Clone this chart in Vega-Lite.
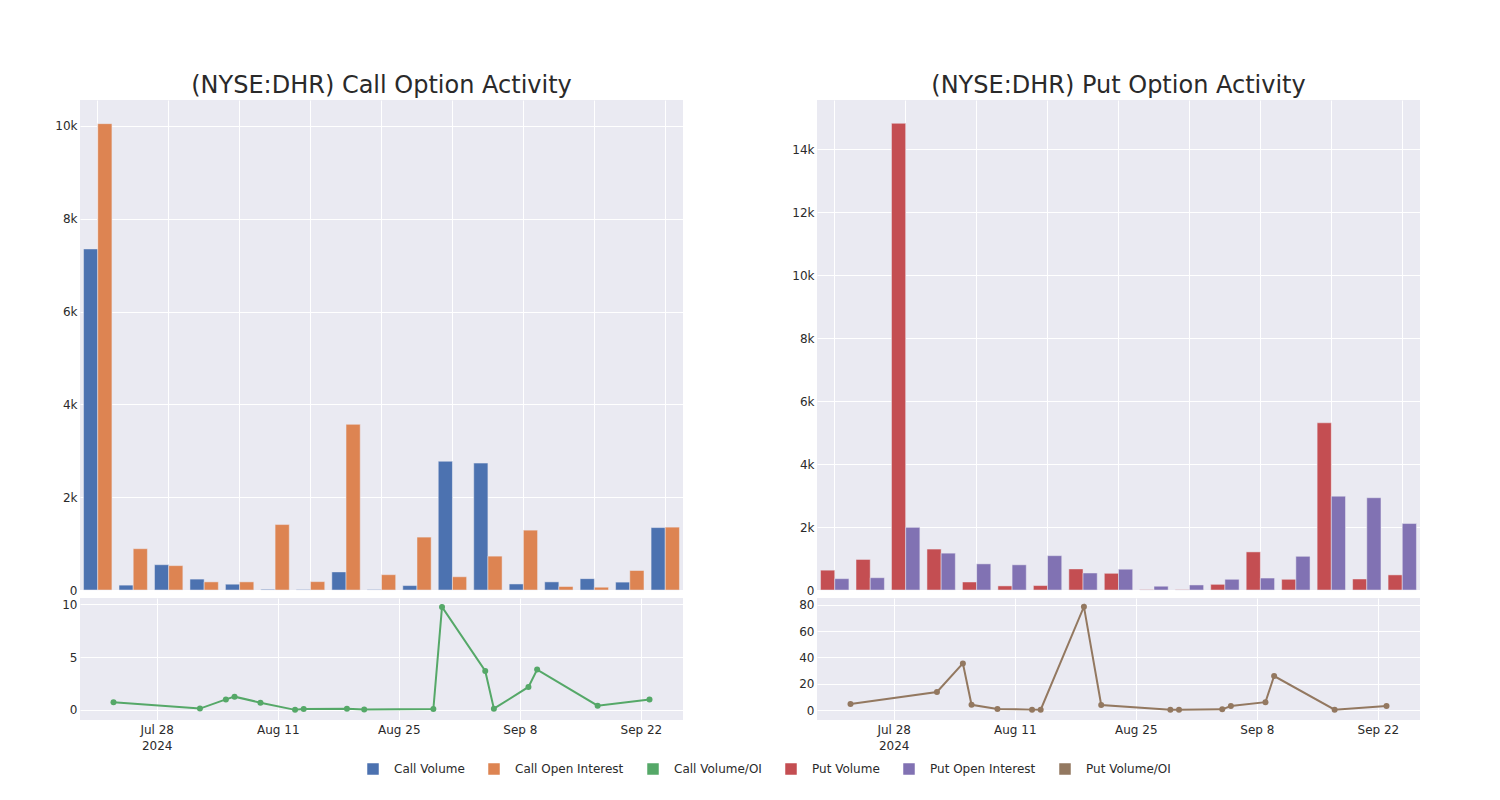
{
  "$schema": "https://vega.github.io/schema/vega-lite/v6.json",
  "background": "white",
  "padding": {"left": 54, "top": 74, "right": 10, "bottom": 10},
  "config": {
    "font": "DejaVu Sans",
    "view": {"fill": "#EAEAF2", "stroke": null},
    "axis": {"domain": false, "ticks": false, "gridColor": "white", "gridWidth": 1, "labelFont": "DejaVu Sans", "labelFontSize": 12, "labelColor": "#2a2a2a", "labelPadding": 3, "title": null},
    "title": {"font": "DejaVu Sans", "fontSize": 24, "fontWeight": "normal", "color": "#2a2a2a", "anchor": "middle", "frame": "group", "offset": 2}
  },
  "datasets": {
    "callBars": [
      {"g": 0, "series": "Call Volume", "value": 7350}, {"g": 0, "series": "Call Open Interest", "value": 10050},
      {"g": 1, "series": "Call Volume", "value": 105}, {"g": 1, "series": "Call Open Interest", "value": 890},
      {"g": 2, "series": "Call Volume", "value": 545}, {"g": 2, "series": "Call Open Interest", "value": 525},
      {"g": 3, "series": "Call Volume", "value": 235}, {"g": 3, "series": "Call Open Interest", "value": 175},
      {"g": 4, "series": "Call Volume", "value": 125}, {"g": 4, "series": "Call Open Interest", "value": 175},
      {"g": 5, "series": "Call Volume", "value": 15}, {"g": 5, "series": "Call Open Interest", "value": 1410},
      {"g": 6, "series": "Call Volume", "value": 10}, {"g": 6, "series": "Call Open Interest", "value": 180},
      {"g": 7, "series": "Call Volume", "value": 390}, {"g": 7, "series": "Call Open Interest", "value": 3570},
      {"g": 8, "series": "Call Volume", "value": 10}, {"g": 8, "series": "Call Open Interest", "value": 330},
      {"g": 9, "series": "Call Volume", "value": 95}, {"g": 9, "series": "Call Open Interest", "value": 1140},
      {"g": 10, "series": "Call Volume", "value": 2775}, {"g": 10, "series": "Call Open Interest", "value": 285},
      {"g": 11, "series": "Call Volume", "value": 2735}, {"g": 11, "series": "Call Open Interest", "value": 730},
      {"g": 12, "series": "Call Volume", "value": 130}, {"g": 12, "series": "Call Open Interest", "value": 1290},
      {"g": 13, "series": "Call Volume", "value": 175}, {"g": 13, "series": "Call Open Interest", "value": 75},
      {"g": 14, "series": "Call Volume", "value": 245}, {"g": 14, "series": "Call Open Interest", "value": 60},
      {"g": 15, "series": "Call Volume", "value": 170}, {"g": 15, "series": "Call Open Interest", "value": 420},
      {"g": 16, "series": "Call Volume", "value": 1345}, {"g": 16, "series": "Call Open Interest", "value": 1355}
    ],
    "putBars": [
      {"g": 0, "series": "Put Volume", "value": 630}, {"g": 0, "series": "Put Open Interest", "value": 360},
      {"g": 1, "series": "Put Volume", "value": 970}, {"g": 1, "series": "Put Open Interest", "value": 390},
      {"g": 2, "series": "Put Volume", "value": 14820}, {"g": 2, "series": "Put Open Interest", "value": 1990},
      {"g": 3, "series": "Put Volume", "value": 1300}, {"g": 3, "series": "Put Open Interest", "value": 1170},
      {"g": 4, "series": "Put Volume", "value": 255}, {"g": 4, "series": "Put Open Interest", "value": 830},
      {"g": 5, "series": "Put Volume", "value": 130}, {"g": 5, "series": "Put Open Interest", "value": 800},
      {"g": 6, "series": "Put Volume", "value": 140}, {"g": 6, "series": "Put Open Interest", "value": 1090},
      {"g": 7, "series": "Put Volume", "value": 670}, {"g": 7, "series": "Put Open Interest", "value": 540},
      {"g": 8, "series": "Put Volume", "value": 530}, {"g": 8, "series": "Put Open Interest", "value": 660},
      {"g": 9, "series": "Put Volume", "value": 10}, {"g": 9, "series": "Put Open Interest", "value": 120},
      {"g": 10, "series": "Put Volume", "value": 10}, {"g": 10, "series": "Put Open Interest", "value": 160},
      {"g": 11, "series": "Put Volume", "value": 180}, {"g": 11, "series": "Put Open Interest", "value": 340},
      {"g": 12, "series": "Put Volume", "value": 1210}, {"g": 12, "series": "Put Open Interest", "value": 380},
      {"g": 13, "series": "Put Volume", "value": 340}, {"g": 13, "series": "Put Open Interest", "value": 1070},
      {"g": 14, "series": "Put Volume", "value": 5310}, {"g": 14, "series": "Put Open Interest", "value": 2980},
      {"g": 15, "series": "Put Volume", "value": 350}, {"g": 15, "series": "Put Open Interest", "value": 2930},
      {"g": 16, "series": "Put Volume", "value": 480}, {"g": 16, "series": "Put Open Interest", "value": 2110}
    ],
    "callRatio": [
      {"date": "2024-07-23", "series": "Call Volume/OI", "value": 0.73},
      {"date": "2024-08-02", "series": "Call Volume/OI", "value": 0.13},
      {"date": "2024-08-05", "series": "Call Volume/OI", "value": 1.0},
      {"date": "2024-08-06", "series": "Call Volume/OI", "value": 1.26},
      {"date": "2024-08-09", "series": "Call Volume/OI", "value": 0.69},
      {"date": "2024-08-13", "series": "Call Volume/OI", "value": 0.01},
      {"date": "2024-08-14", "series": "Call Volume/OI", "value": 0.09},
      {"date": "2024-08-19", "series": "Call Volume/OI", "value": 0.12},
      {"date": "2024-08-21", "series": "Call Volume/OI", "value": 0.05},
      {"date": "2024-08-29", "series": "Call Volume/OI", "value": 0.09},
      {"date": "2024-08-30", "series": "Call Volume/OI", "value": 9.75},
      {"date": "2024-09-04", "series": "Call Volume/OI", "value": 3.69},
      {"date": "2024-09-05", "series": "Call Volume/OI", "value": 0.12},
      {"date": "2024-09-09", "series": "Call Volume/OI", "value": 2.18},
      {"date": "2024-09-10", "series": "Call Volume/OI", "value": 3.82},
      {"date": "2024-09-17", "series": "Call Volume/OI", "value": 0.41},
      {"date": "2024-09-23", "series": "Call Volume/OI", "value": 0.98}
    ],
    "putRatio": [
      {"date": "2024-07-23", "series": "Put Volume/OI", "value": 4.6},
      {"date": "2024-08-02", "series": "Put Volume/OI", "value": 13.7},
      {"date": "2024-08-05", "series": "Put Volume/OI", "value": 35.5},
      {"date": "2024-08-06", "series": "Put Volume/OI", "value": 4.0},
      {"date": "2024-08-09", "series": "Put Volume/OI", "value": 0.8},
      {"date": "2024-08-13", "series": "Put Volume/OI", "value": 0.3},
      {"date": "2024-08-14", "series": "Put Volume/OI", "value": 0.3},
      {"date": "2024-08-19", "series": "Put Volume/OI", "value": 78.7},
      {"date": "2024-08-21", "series": "Put Volume/OI", "value": 3.8},
      {"date": "2024-08-29", "series": "Put Volume/OI", "value": 0.3},
      {"date": "2024-08-30", "series": "Put Volume/OI", "value": 0.3},
      {"date": "2024-09-04", "series": "Put Volume/OI", "value": 0.5},
      {"date": "2024-09-05", "series": "Put Volume/OI", "value": 3.0},
      {"date": "2024-09-09", "series": "Put Volume/OI", "value": 6.0},
      {"date": "2024-09-10", "series": "Put Volume/OI", "value": 25.9},
      {"date": "2024-09-17", "series": "Put Volume/OI", "value": 0.3},
      {"date": "2024-09-23", "series": "Put Volume/OI", "value": 3.0}
    ]
  },
  "resolve": {"scale": {"xOffset": "independent"}},
  "hconcat": [
    {
      "vconcat": [
        {
          "title": {"text": "(NYSE:DHR) Call Option Activity"},
          "width": 603, "height": 490,
          "data": {"name": "callBars"},
          "mark": {"type": "bar", "stroke": "#EAEAF2", "strokeWidth": 0.5},
          "encoding": {
            "x": {"field": "g", "type": "ordinal", "scale": {"paddingInner": 0.2, "paddingOuter": 0.1},
                  "axis": {"values": [0, 2, 4, 6, 8, 10, 12, 14, 16], "labels": false, "grid": true, "bandPosition": 0.5}},
            "xOffset": {"field": "series", "type": "nominal", "scale": {"domain": ["Call Volume", "Call Open Interest"], "paddingInner": 0, "paddingOuter": 0}},
            "y": {"field": "value", "type": "quantitative", "scale": {"domain": [0, 10560], "nice": false},
                  "axis": {"values": [0, 2000, 4000, 6000, 8000, 10000], "labelExpr": "datum.value == 0 ? '0' : (datum.value / 1000) + 'k'"}},
            "color": {"field": "series", "type": "nominal",
              "scale": {"domain": ["Call Volume", "Call Open Interest", "Call Volume/OI", "Put Volume", "Put Open Interest", "Put Volume/OI"],
                        "range": ["#4C72B0", "#DD8452", "#55A868", "#C44E52", "#8172B3", "#937860"]},
              "legend": {"orient": "none", "legendX": 287, "legendY": 663, "direction": "horizontal", "title": null, "gridAlign": "none",
                "symbolSize": 100, "labelFontSize": 12, "labelColor": "#2a2a2a", "labelOffset": 15, "columnPadding": 21,
                "symbolType": "square", "symbolOpacity": 1,
                "encode": {"symbols": {
                  "shape": {"value": {"expr": "indexof(datum.value, '/OI') >= 0 ? 'M-3.2,0H2.8M-0.8,0A0.6,0.6 0 1 0 0.4,0A0.6,0.6 0 1 0 -0.8,0' : 'square'"}},
                  "stroke": {"value": {"expr": "scale('color', datum.value)"}},
                  "strokeWidth": {"value": {"expr": "indexof(datum.value, '/OI') >= 0 ? 2 : 0"}}
                }}}
            }
          }
        },
        {
          "width": 603, "height": 122,
          "data": {"name": "callRatio"},
          "mark": {"type": "line", "strokeWidth": 2, "point": {"filled": true, "size": 36, "opacity": 1}},
          "encoding": {
            "x": {"field": "date", "type": "temporal",
                  "scale": {"type": "utc", "domain": [{"year": 2024, "month": 7, "date": 19, "hours": 3, "utc": true}, {"year": 2024, "month": 9, "date": 26, "hours": 21, "utc": true}]},
                  "axis": {"values": [{"year": 2024, "month": 7, "date": 28, "utc": true}, {"year": 2024, "month": 8, "date": 11, "utc": true}, {"year": 2024, "month": 8, "date": 25, "utc": true}, {"year": 2024, "month": 9, "date": 8, "utc": true}, {"year": 2024, "month": 9, "date": 22, "utc": true}],
                           "labelExpr": "utcmonth(datum.value) == 6 ? [utcFormat(datum.value, '%b %-d'), '2024'] : utcFormat(datum.value, '%b %-d')",
                           "labelLineHeight": 16, "labelPadding": 4, "grid": true}},
            "y": {"field": "value", "type": "quantitative", "scale": {"domain": [-0.95, 10.6], "nice": false, "zero": false},
                  "axis": {"values": [0, 5, 10]}},
            "color": {"field": "series", "type": "nominal"}
          }
        }
      ],
      "spacing": 2
    },
    {
      "vconcat": [
        {
          "title": {"text": "(NYSE:DHR) Put Option Activity"},
          "width": 603, "height": 490,
          "data": {"name": "putBars"},
          "mark": {"type": "bar", "stroke": "#EAEAF2", "strokeWidth": 0.5},
          "encoding": {
            "x": {"field": "g", "type": "ordinal", "scale": {"paddingInner": 0.2, "paddingOuter": 0.1},
                  "axis": {"values": [0, 2, 4, 6, 8, 10, 12, 14, 16], "labels": false, "grid": true, "bandPosition": 0.5}},
            "xOffset": {"field": "series", "type": "nominal", "scale": {"domain": ["Put Volume", "Put Open Interest"], "paddingInner": 0, "paddingOuter": 0}},
            "y": {"field": "value", "type": "quantitative", "scale": {"domain": [0, 15560], "nice": false},
                  "axis": {"values": [0, 2000, 4000, 6000, 8000, 10000, 12000, 14000], "labelExpr": "datum.value == 0 ? '0' : (datum.value / 1000) + 'k'"}},
            "color": {"field": "series", "type": "nominal"}
          }
        },
        {
          "width": 603, "height": 122,
          "data": {"name": "putRatio"},
          "mark": {"type": "line", "strokeWidth": 2, "point": {"filled": true, "size": 36, "opacity": 1}},
          "encoding": {
            "x": {"field": "date", "type": "temporal",
                  "scale": {"type": "utc", "domain": [{"year": 2024, "month": 7, "date": 19, "hours": 3, "utc": true}, {"year": 2024, "month": 9, "date": 26, "hours": 21, "utc": true}]},
                  "axis": {"values": [{"year": 2024, "month": 7, "date": 28, "utc": true}, {"year": 2024, "month": 8, "date": 11, "utc": true}, {"year": 2024, "month": 8, "date": 25, "utc": true}, {"year": 2024, "month": 9, "date": 8, "utc": true}, {"year": 2024, "month": 9, "date": 22, "utc": true}],
                           "labelExpr": "utcmonth(datum.value) == 6 ? [utcFormat(datum.value, '%b %-d'), '2024'] : utcFormat(datum.value, '%b %-d')",
                           "labelLineHeight": 16, "labelPadding": 4, "grid": true}},
            "y": {"field": "value", "type": "quantitative", "scale": {"domain": [-7.6, 85.3], "nice": false, "zero": false},
                  "axis": {"values": [0, 20, 40, 60, 80]}},
            "color": {"field": "series", "type": "nominal"}
          }
        }
      ],
      "spacing": 2
    }
  ],
  "spacing": 108
}
